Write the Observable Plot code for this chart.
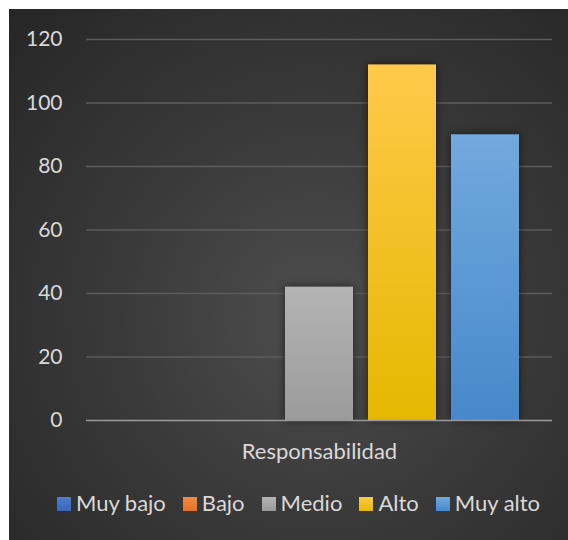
<!DOCTYPE html>
<html>
<head>
<meta charset="utf-8">
<script src="https://cdn.jsdelivr.net/npm/d3@7"></script>
<script src="https://cdn.jsdelivr.net/npm/@observablehq/plot@0.6"></script>
<style>
  html, body { margin: 0; padding: 0; background: #ffffff; }
  #page { position: relative; width: 568px; height: 540px; overflow: hidden; }
  #panel {
    position: absolute; left: 9px; top: 9px; width: 559px; height: 531px;
    background: radial-gradient(ellipse farthest-corner at 55% 58%, #4e4e4e 0%, #3a3a3a 45%, #262626 100%);
    font-family: Lato, "Open Sans", sans-serif;
  }
  #chart { position: absolute; left: 0; top: 0; }
  #chart svg .bars { filter: drop-shadow(0 0 4px rgba(0,0,0,0.55)); }
  #legend {
    position: absolute; left: 0; top: 483px; width: 559px;
    display: flex; justify-content: center; gap: 17px;
    transform: translateX(10px);
    color: #d9d9d9; font-size: 22px; line-height: 22px; white-space: nowrap;
  }
  #legend .item { display: inline-block; }
  #legend .sw { display: inline-block; width: 14px; height: 14px; margin-right: 5px; vertical-align: baseline; }
</style>
</head>
<body>
<div id="page">
  <svg width="0" height="0" style="position:absolute" id="defs"></svg>
  <div id="panel">
    <div id="chart"></div>
    <div id="legend"></div>
  </div>
</div>
<script>
// Data
const grupo = "Responsabilidad";
const niveles = ["Muy bajo", "Bajo", "Medio", "Alto", "Muy alto"];
const valores = [0, 0, 42, 112, 90];
const yTicks = [0, 20, 40, 60, 80, 100, 120];
// Series colours: [top, bottom] of each bar's gradient
const coloresTop = ["#4d7fd4", "#f28a42", "#b4b4b4", "#ffc94a", "#72a9de"];
const coloresBottom = ["#3a66b6", "#e27228", "#9b9b9b", "#e6b700", "#4688cb"];

const data = niveles.map((n, i) => ({grupo, nivel: n, valor: valores[i]}));

// gradients
const defsSvg = d3.select("#defs");
const defs = defsSvg.append("defs");
niveles.forEach((n, i) => {
  const g = defs.append("linearGradient").attr("id", "grad" + i)
    .attr("x1", 0).attr("y1", 0).attr("x2", 0).attr("y2", 1);
  g.append("stop").attr("offset", "0%").attr("stop-color", coloresTop[i]);
  g.append("stop").attr("offset", "100%").attr("stop-color", coloresBottom[i]);
});
const gradUrls = niveles.map((n, i) => `url(#grad${i})`);

const chart = Plot.plot({
  width: 559,
  height: 470,
  marginLeft: 77,
  marginRight: 16,
  marginTop: 30,
  marginBottom: 59,
  style: { background: "transparent", color: "#d9d9d9", fontFamily: "Lato, 'Open Sans', sans-serif", fontSize: "21px" },
  fx: { domain: [grupo], padding: 0, label: null },
  x: { domain: niveles, paddingInner: 15 / 83, paddingOuter: 0.3976, round: false, axis: null },
  y: { domain: [0, 120], label: null },
  color: { type: "ordinal", domain: niveles, range: gradUrls },
  marks: [
    Plot.gridY(yTicks.filter(d => d > 0), { stroke: "#5c5c5c", strokeOpacity: 1, strokeWidth: 1.3 }),
    Plot.axisY({ ticks: yTicks, tickSize: 0, tickPadding: 24, label: null, fontSize: 21 }),
    Plot.axisFx({ anchor: "bottom", tickSize: 0, tickPadding: 23, label: null, fontSize: 22 }),
    Plot.barY(data, { fx: "grupo", x: "nivel", y: "valor", fill: "nivel", className: "bars" }),
    Plot.ruleY([0], { stroke: "#9a9a9a", strokeWidth: 1.6 })
  ]
});
document.getElementById("chart").appendChild(chart);

// legend
const legend = d3.select("#legend");
niveles.forEach((n, i) => {
  const it = legend.append("span").attr("class", "item");
  it.append("span").attr("class", "sw")
    .style("background", `linear-gradient(${coloresTop[i]}, ${coloresBottom[i]})`);
  it.append("span").text(n);
});
</script>
</body>
</html>
